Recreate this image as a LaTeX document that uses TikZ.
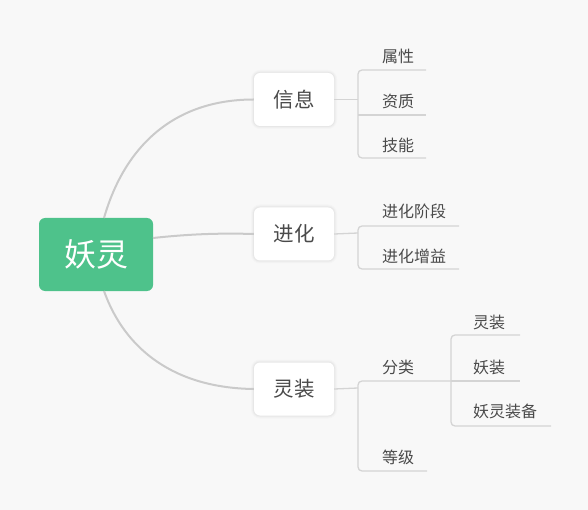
\documentclass[tikz,border=0pt]{standalone}
\usepackage{fontspec}
\setmainfont{Noto Sans CJK SC}
\definecolor{bgc}{HTML}{F8F8F8}
\definecolor{rootc}{HTML}{4EC28B}
\definecolor{curvec}{HTML}{CACACA}
\definecolor{brc}{HTML}{D4D4D4}
\definecolor{txtc}{HTML}{4A4A4A}
\tikzset{
  rootbox/.style={fill=rootc, rounded corners=6pt, minimum width=114pt, minimum height=73pt,
    text=white, font=\fontsize{32}{32}\selectfont, inner sep=0pt},
  topicbox/.style={fill=white, rounded corners=6pt, minimum width=80pt, minimum height=53pt,
    text=txtc, font=\fontsize{20.5}{20.5}\selectfont, inner sep=0pt,
    preaction={draw=black, draw opacity=0.015, line width=6pt},
    preaction={draw=black, draw opacity=0.02, line width=4pt},
    preaction={draw=black, draw opacity=0.03, line width=2pt}},
  leaf/.style={text=txtc, font=\fontsize{16}{16}\selectfont, inner sep=0pt, anchor=west},
  curve/.style={draw=curvec, line width=2pt},
  bracket/.style={draw=brc, line width=1.3pt, rounded corners=4pt},
}
\begin{document}
\begin{tikzpicture}[x=1pt,y=-1pt]
\fill[bgc] (0,0) rectangle (588,510);
\useasboundingbox (0,0) rectangle (588,510);

% root and topics
\node[rootbox] (root) at (96,254.5) {妖灵};
\node[topicbox] (info) at (294,99.5) {信息};
\node[topicbox] (evo) at (294,234) {进化};
\node[topicbox] (equip) at (294,389) {灵装};

% root connectors
\coordinate (rt) at (104,218);
\coordinate (rb) at (104,291);
\coordinate (rr) at (153,238);
\draw[curve] (rt) .. controls (125,145) and (175,99.5) .. (info.west);
\draw[curve] (rr) .. controls (190,234) and (220,233) .. (evo.west);
\draw[curve] (rb) .. controls (125,350) and (175,388) .. (equip.west);

% info branch
\node[leaf] (attr) at (382,56) {属性};
\node[leaf] (qual) at (382,101) {资质};
\node[leaf] (skill) at (382,145) {技能};
\coordinate (ij) at (358,99.5);
\draw[bracket] (info.east) -- (ij);
\draw[bracket] (426,70) -- (358,70) -- (358,158) -- (426,158);
\draw[bracket] (358,115) -- (426,115);

% evolution branch
\node[leaf] (stage) at (382,211) {进化阶段};
\node[leaf] (gain) at (382,256) {进化增益};
\coordinate (ej) at (358,233);
\draw[bracket] (evo.east) -- (ej);
\draw[bracket] (459,226) -- (358,226) -- (358,269) -- (459,269);

% equip branch
\node[leaf] (cls) at (382,367) {分类};
\node[leaf] (lvl) at (382,457) {等级};
\coordinate (qj) at (358,388);
\draw[bracket] (equip.east) -- (qj);
\draw[bracket] (451,381) -- (358,381) -- (358,471) -- (427,471);

% class sub-branch
\node[leaf] (c1) at (473,322) {灵装};
\node[leaf] (c2) at (473,367) {妖装};
\node[leaf] (c3) at (473,411) {妖灵装备};
\draw[bracket] (451,381) -- (520,381);
\draw[bracket] (520,335) -- (451,335) -- (451,426) -- (551,426);
\end{tikzpicture}
\end{document}
